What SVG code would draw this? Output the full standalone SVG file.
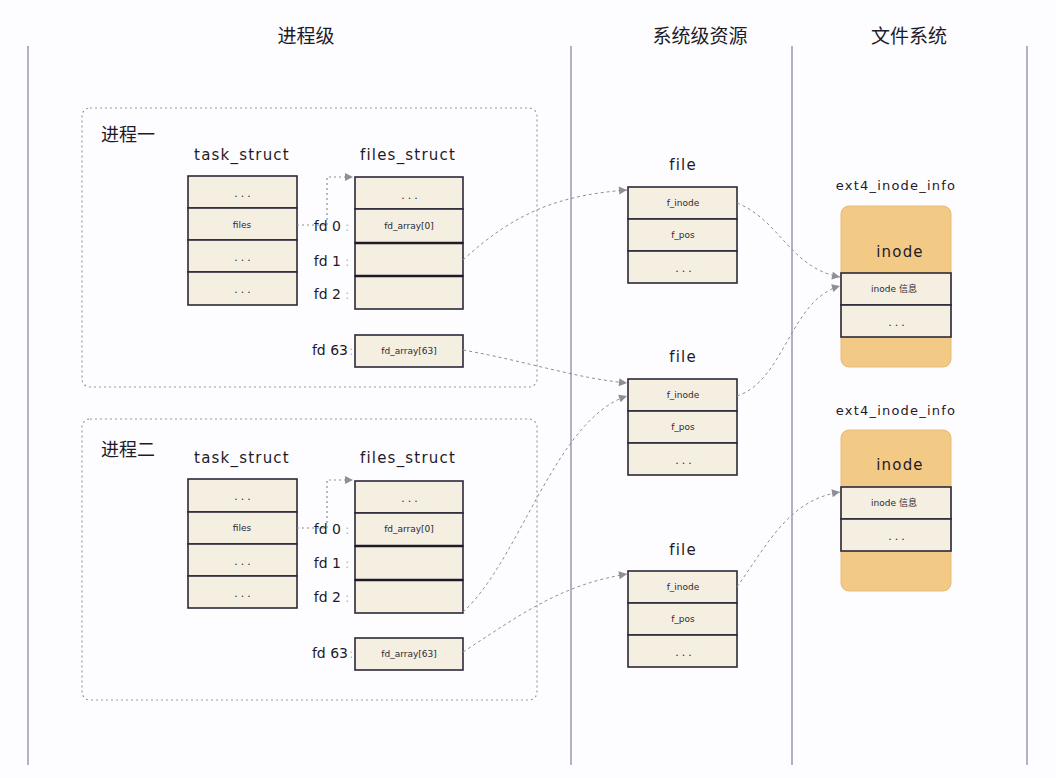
<svg xmlns="http://www.w3.org/2000/svg" width="1056" height="778" viewBox="0 0 1056 778">
<style>
.bg{fill:#fdfdff}
.lane{stroke:#8c8aa3;stroke-width:1.3}
.title{font-family:"Noto Sans CJK SC","Noto Sans",sans-serif;font-size:19px;fill:#1e1a28;text-anchor:middle}
.proc{fill:none;stroke:#9a98aa;stroke-width:1.2;stroke-dasharray:2 3}
.ptitle{font-family:"Noto Sans CJK SC","Noto Sans",sans-serif;font-size:18px;fill:#1e1a28}
.lbl{font-family:"DejaVu Sans",sans-serif;font-size:15px;fill:#1e1a28;text-anchor:middle;letter-spacing:1.2px}
.cell{fill:#f4efe0;stroke:#2b2838;stroke-width:1.6}
.thick{stroke:#1e1a28;stroke-width:2.6}
.ct{font-family:"DejaVu Sans","Noto Sans CJK SC",sans-serif;font-size:9px;fill:#2b2838;text-anchor:middle}
.dots{font-family:"DejaVu Sans",sans-serif;font-size:11px;fill:#2b2838;text-anchor:middle;letter-spacing:3px}
.fd{font-family:"DejaVu Sans",sans-serif;font-size:14px;fill:#1e1a28;text-anchor:end}
.colon{font-family:"DejaVu Sans",sans-serif;font-size:13px;fill:#b8b8c4}
.inodebg{fill:#f3c986;stroke:#e6bb78;stroke-width:1}
.icell{fill:#f4efe0;stroke:#2b2838;stroke-width:1.6}
.conn{fill:none;stroke:#8e8e99;stroke-width:1;stroke-dasharray:3 3}
.conn2{fill:none;stroke:#8e8e99;stroke-width:1.2;stroke-dasharray:2 3}
</style>
<defs>
<marker id="arr" markerWidth="10" markerHeight="10" refX="9" refY="5" orient="auto" markerUnits="userSpaceOnUse">
<path d="M1,1 L9,5 L1,9 Z" fill="#8e8e99"/>
</marker>
</defs>
<rect class="bg" x="0" y="0" width="1056" height="778"/>

<g id="lanes">
<line class="lane" x1="28" y1="46" x2="28" y2="765"/>
<line class="lane" x1="571" y1="46" x2="571" y2="765"/>
<line class="lane" x1="792" y1="46" x2="792" y2="765"/>
<line class="lane" x1="1027" y1="46" x2="1027" y2="765"/>
<text class="title" x="306" y="43">进程级</text>
<text class="title" x="700" y="43">系统级资源</text>
<text class="title" x="909" y="43">文件系统</text>
</g>

<g id="process1">
<rect class="proc" x="82" y="108" width="455" height="279" rx="8"/>
<text class="ptitle" x="101" y="141">进程一</text>
</g>
<g id="task_struct1">
<text class="lbl" x="242" y="160">task_struct</text>
<rect class="cell" x="188" y="176" width="109" height="32"/>
<rect class="cell" x="188" y="208" width="109" height="32"/>
<rect class="cell" x="188" y="240" width="109" height="32"/>
<rect class="cell" x="188" y="272" width="109" height="33"/>
<text class="dots" x="244" y="197">...</text>
<text class="ct" x="242" y="228">files</text>
<text class="dots" x="244" y="261">...</text>
<text class="dots" x="244" y="293">...</text>
</g>
<g id="files_struct1">
<text class="lbl" x="408" y="160">files_struct</text>
<rect class="cell" x="355" y="177" width="108" height="32"/>
<rect class="cell" x="355" y="209" width="108" height="34"/>
<rect class="cell" x="355" y="243" width="108" height="33"/>
<rect class="cell" x="355" y="276" width="108" height="33"/>
<line class="thick" x1="355" y1="243" x2="463" y2="243"/>
<line class="thick" x1="355" y1="276" x2="463" y2="276"/>
<text class="dots" x="411" y="199">...</text>
<text class="ct" x="409" y="229">fd_array[0]</text>
<text class="fd" x="341" y="231">fd 0</text><text class="colon" x="345" y="231">:</text>
<text class="fd" x="341" y="266">fd 1</text><text class="colon" x="345" y="266">:</text>
<text class="fd" x="341" y="299">fd 2</text><text class="colon" x="345" y="299">:</text>
<rect class="cell" x="355" y="335" width="108" height="32"/>
<text class="ct" x="409" y="354">fd_array[63]</text>
<text class="fd" x="348" y="355">fd 63</text><text class="colon" x="349" y="355">:</text>
</g>

<g id="process2">
<rect class="proc" x="82" y="419" width="455" height="281" rx="8"/>
<text class="ptitle" x="101" y="456">进程二</text>
</g>
<g id="task_struct2">
<text class="lbl" x="242" y="463">task_struct</text>
<rect class="cell" x="188" y="479" width="109" height="33"/>
<rect class="cell" x="188" y="512" width="109" height="32"/>
<rect class="cell" x="188" y="544" width="109" height="32"/>
<rect class="cell" x="188" y="576" width="109" height="32"/>
<text class="dots" x="244" y="500">...</text>
<text class="ct" x="242" y="531">files</text>
<text class="dots" x="244" y="565">...</text>
<text class="dots" x="244" y="597">...</text>
</g>
<g id="files_struct2">
<text class="lbl" x="408" y="463">files_struct</text>
<rect class="cell" x="355" y="481" width="108" height="32"/>
<rect class="cell" x="355" y="513" width="108" height="33"/>
<rect class="cell" x="355" y="546" width="108" height="34"/>
<rect class="cell" x="355" y="580" width="108" height="33"/>
<line class="thick" x1="355" y1="546" x2="463" y2="546"/>
<line class="thick" x1="355" y1="580" x2="463" y2="580"/>
<text class="dots" x="411" y="502">...</text>
<text class="ct" x="409" y="532">fd_array[0]</text>
<text class="fd" x="341" y="534">fd 0</text><text class="colon" x="345" y="534">:</text>
<text class="fd" x="341" y="568">fd 1</text><text class="colon" x="345" y="568">:</text>
<text class="fd" x="341" y="602">fd 2</text><text class="colon" x="345" y="602">:</text>
<rect class="cell" x="355" y="638" width="108" height="32"/>
<text class="ct" x="409" y="657">fd_array[63]</text>
<text class="fd" x="348" y="658">fd 63</text><text class="colon" x="349" y="658">:</text>
</g>

<g id="file1">
<text class="lbl" x="683" y="170">file</text>
<rect class="cell" x="628" y="187" width="109" height="32"/>
<rect class="cell" x="628" y="219" width="109" height="32"/>
<rect class="cell" x="628" y="251" width="109" height="32"/>
<text class="ct" x="683" y="206">f_inode</text>
<text class="ct" x="683" y="238">f_pos</text>
<text class="dots" x="685" y="272">...</text>
</g>
<g id="file2">
<text class="lbl" x="683" y="362">file</text>
<rect class="cell" x="628" y="379" width="109" height="32"/>
<rect class="cell" x="628" y="411" width="109" height="32"/>
<rect class="cell" x="628" y="443" width="109" height="32"/>
<text class="ct" x="683" y="398">f_inode</text>
<text class="ct" x="683" y="430">f_pos</text>
<text class="dots" x="685" y="464">...</text>
</g>
<g id="file3">
<text class="lbl" x="683" y="555">file</text>
<rect class="cell" x="628" y="571" width="109" height="32"/>
<rect class="cell" x="628" y="603" width="109" height="32"/>
<rect class="cell" x="628" y="635" width="109" height="32"/>
<text class="ct" x="683" y="590">f_inode</text>
<text class="ct" x="683" y="622">f_pos</text>
<text class="dots" x="685" y="656">...</text>
</g>

<g id="inode1">
<text class="lbl" x="896" y="190" style="font-size:13px">ext4_inode_info</text>
<rect class="inodebg" x="841" y="206" width="110" height="161" rx="8"/>
<text class="lbl" x="900" y="257">inode</text>
<rect class="icell" x="841" y="273" width="110" height="32"/>
<rect class="icell" x="841" y="305" width="110" height="32"/>
<text class="ct" x="894" y="292">inode 信息</text>
<text class="dots" x="898" y="326">...</text>
</g>
<g id="inode2">
<text class="lbl" x="896" y="415" style="font-size:13px">ext4_inode_info</text>
<rect class="inodebg" x="841" y="430" width="110" height="161" rx="8"/>
<text class="lbl" x="900" y="470">inode</text>
<rect class="icell" x="841" y="487" width="110" height="32"/>
<rect class="icell" x="841" y="519" width="110" height="32"/>
<text class="ct" x="894" y="506">inode 信息</text>
<text class="dots" x="898" y="540">...</text>
</g>

<g id="connectors">
<path class="conn2" d="M297,225 H327 V177 H353" marker-end="url(#arr)"/>
<path class="conn2" d="M297,528 H327 V480 H353" marker-end="url(#arr)"/>
<path class="conn" d="M463,260 C515,212 560,195 627,190" marker-end="url(#arr)"/>
<path class="conn" d="M463,350 C530,362 575,378 627,383" marker-end="url(#arr)"/>
<path class="conn" d="M737,203 C780,220 790,268 840,277" marker-end="url(#arr)"/>
<path class="conn" d="M737,396 C785,380 790,300 840,286" marker-end="url(#arr)"/>
<path class="conn" d="M463,612 C520,560 555,420 627,396" marker-end="url(#arr)"/>
<path class="conn" d="M463,652 C520,615 560,585 627,574" marker-end="url(#arr)"/>
<path class="conn" d="M737,587 C770,540 790,500 840,492" marker-end="url(#arr)"/>
</g>
</svg>
